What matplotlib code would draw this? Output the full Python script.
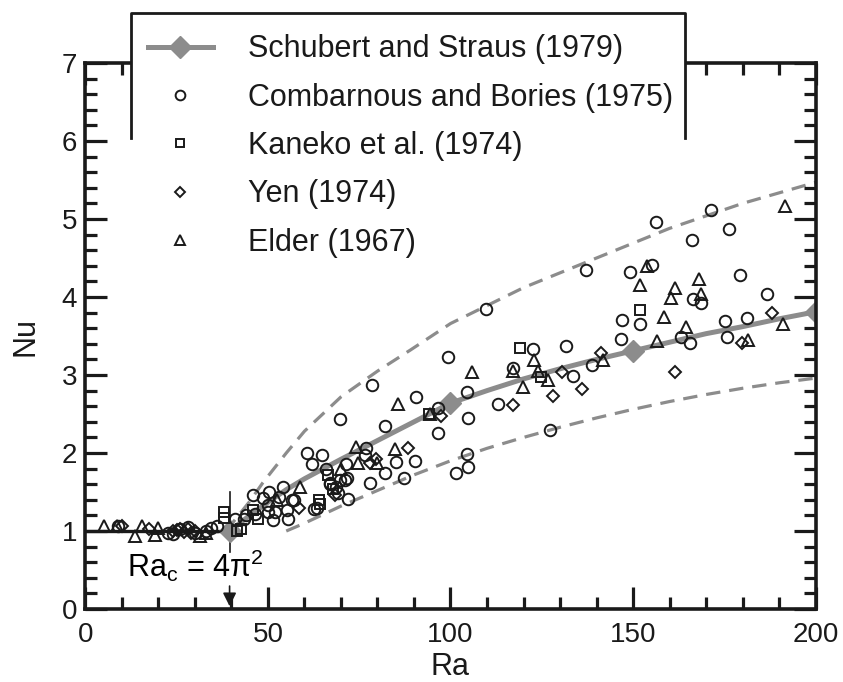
import matplotlib
matplotlib.use("Agg")
from matplotlib import pyplot as plt
from matplotlib.lines import Line2D
from matplotlib.patches import Rectangle
from matplotlib.ticker import MultipleLocator

plt.rcParams['font.family'] = ['Liberation Sans', 'DejaVu Sans']
plt.rcParams['mathtext.fontset'] = 'custom'
plt.rcParams['mathtext.rm'] = 'Liberation Sans'
plt.rcParams['mathtext.it'] = 'Liberation Sans:italic'

# Schubert and Straus (1979) curve, diamonds at 4pi^2, 100, 150, 200
ss_ra = [39.5, 45, 50, 55, 60, 70, 80, 90, 100, 110, 120, 130, 140, 150, 160, 170, 180, 190, 200]
ss_nu = [1.0, 1.2, 1.37, 1.53, 1.67, 1.92, 2.16, 2.40, 2.64, 2.80, 2.95, 3.08, 3.20, 3.31, 3.42, 3.53, 3.62, 3.72, 3.81]
ss_marks = [0, 8, 13, 18]

# dashed envelope
up_ra = [38.5, 45, 48.6, 55, 60, 70, 80, 89, 100, 120, 140, 160, 180, 200]
up_nu = [1.0, 1.38, 1.62, 2.0, 2.28, 2.72, 3.05, 3.32, 3.66, 4.12, 4.5, 4.88, 5.2, 5.47]
lo_ra = [55, 60, 70, 80, 90, 100, 110, 120, 130, 140, 150, 160, 170, 180, 190, 200]
lo_nu = [1.0, 1.1, 1.32, 1.52, 1.72, 1.9, 2.06, 2.2, 2.33, 2.45, 2.56, 2.66, 2.75, 2.83, 2.9, 2.96]

# Combarnous and Bories (1975)
cb_ra = [9, 22.5, 24, 26, 28, 30, 33, 34.5, 36,
         41, 43.3, 44, 46, 46.5, 48.5, 50.4, 52.9, 50.1, 49.9, 52, 54, 55.6, 51.5, 56.7, 55.3, 57,
         60.8, 64.8, 62.1, 65.8, 67, 69.8, 71.1, 68.7, 69.2, 71.9, 67, 62.7, 63.5, 71.4, 71.6,
         69.8, 78.5, 76.8, 76.6, 77.9, 82, 82, 85, 87.2, 90.2, 90.5, 96.7, 96.5, 99.2, 101.6,
         104.6, 104.9, 104.4, 104.9, 109.8, 113, 117.2, 122.6, 127.2, 131.6, 133.5, 137, 138.7,
         146.6, 146.9, 149.3, 151.8, 155.3, 156.4, 163.2, 165.7, 166.5, 168.7, 166.2, 171.4,
         175.2, 175.7, 176.3, 179.3, 181.2, 186.6]
cb_nu = [1.06, 0.97, 0.96, 1.03, 1.05, 0.97, 1.0, 1.04, 1.06,
         1.16, 1.16, 1.2, 1.46, 1.22, 1.42, 1.50, 1.44, 1.33, 1.24, 1.24, 1.56, 1.15, 1.14, 1.40, 1.27, 1.40,
         2.0, 1.98, 1.86, 1.80, 1.62, 1.66, 1.66, 1.56, 1.49, 1.41, 1.60, 1.28, 1.29, 1.86, 1.68,
         2.44, 2.87, 2.07, 1.97, 1.62, 2.35, 1.75, 1.89, 1.68, 1.9, 2.72, 2.58, 2.26, 3.23, 1.74,
         1.99, 1.82, 2.78, 2.45, 3.85, 2.63, 3.09, 3.33, 2.29, 3.37, 2.99, 4.35, 3.13,
         3.46, 3.70, 4.32, 3.65, 4.41, 4.96, 3.49, 3.41, 3.98, 3.92, 4.73, 5.11,
         3.69, 3.49, 4.87, 4.28, 3.73, 4.04]

# Kaneko et al. (1974)
ka_ra = [37.9, 37.9, 41.6, 42.5, 45.8, 47.4, 64, 64.3, 66.5, 67.8, 94, 119, 124.8, 152]
ka_nu = [1.24, 1.17, 1.0, 1.02, 1.27, 1.16, 1.40, 1.35, 1.72, 1.54, 2.50, 3.35, 2.98, 3.83]

# Yen (1974)
ye_ra = [10, 17.5, 24, 25, 26, 27, 28, 29, 30,
         58.6, 68.4, 77.9, 79.6, 88.3, 97.3, 117.2, 128, 130.5, 136, 141.1, 161.6, 179.8, 188]
ye_nu = [1.06, 1.03, 1.0, 1.01, 1.02, 0.99, 1.02, 0.98, 1.0,
         1.29, 1.46, 1.87, 1.92, 2.07, 2.47, 2.62, 2.73, 3.04, 2.82, 3.28, 3.04, 3.41, 3.79]

# Elder (1967)
el_ra = [5, 8.5, 13.5, 15.5, 19, 20, 31.5, 33,
         52.5, 58.9, 70, 74.1, 74.7, 79.8, 84.7, 85.6, 94.3, 106, 117.2, 119.9, 122.9, 124, 126.7,
         141.7, 152, 153.7, 156.7, 158.6, 160.5, 161.6, 164.6, 168, 168.7, 181.5, 191, 191.6]
el_nu = [1.06, 1.06, 0.94, 1.06, 0.95, 1.04, 0.93, 0.98,
         1.40, 1.56, 1.79, 2.08, 1.87, 1.87, 2.05, 2.63, 2.50, 3.04, 3.05, 2.85, 3.19, 3.05, 2.94,
         3.19, 4.15, 4.40, 3.44, 3.75, 3.99, 4.12, 3.61, 4.23, 4.04, 3.45, 3.66, 5.17]

ra_crit = 39.48
gray = '#8c8c8c'
ink = '#1a1a1a'

fig = plt.figure(figsize=(8.43, 6.82), dpi=100)
ax = fig.add_axes([0.1014, 0.107, 0.866, 0.8006])

# conduction line and critical Ra marker
ax.plot([0, ra_crit], [1, 1], color=ink, lw=2.4, zorder=2)
ax.plot([ra_crit, ra_crit], [0.73, 1.5], color=ink, lw=1.2, zorder=2)

ax.plot(up_ra, up_nu, color=gray, lw=2.3, dashes=(4.5, 2.8), zorder=1)
ax.plot(lo_ra, lo_nu, color=gray, lw=2.3, dashes=(4.5, 2.8), zorder=1)
ax.plot(ss_ra, ss_nu, color=gray, lw=3.6, marker='D', markersize=11.5, markevery=ss_marks,
        markeredgecolor=gray, zorder=2)

mk = dict(linestyle='none', markerfacecolor='none', markeredgecolor=ink, markeredgewidth=1.4, zorder=3)
ax.plot(cb_ra, cb_nu, marker='o', markersize=8.3, **mk)
ax.plot(ka_ra, ka_nu, marker='s', markersize=7.3, **mk)
ax.plot(ye_ra, ye_nu, marker='D', markersize=6.0, **mk)
ax.plot(el_ra, el_nu, marker='^', markersize=8.0, **mk)

ax.text(30, 0.41, r'Ra$_\mathrm{c}$ = 4π$^\mathrm{2}$', fontsize=22, ha='center', va='baseline')
ax.annotate('', xy=(ra_crit, 0), xytext=(ra_crit, 0.33),
            arrowprops=dict(arrowstyle='-|>', color=ink, lw=1.2, mutation_scale=20))

ax.set_xlim(0, 200)
ax.set_ylim(0, 7)
ax.xaxis.set_major_locator(MultipleLocator(50))
ax.xaxis.set_minor_locator(MultipleLocator(10))
ax.yaxis.set_major_locator(MultipleLocator(1))
ax.yaxis.set_minor_locator(MultipleLocator(0.2))
ax.tick_params(which='both', direction='in', top=True, right=True, width=2.3, color=ink,
               labelsize=20, labelcolor=ink)
ax.tick_params(which='major', length=16)
ax.tick_params(which='minor', length=8.5)
ax.tick_params(axis='x', pad=9)
ax.tick_params(axis='y', pad=6)
for s in ax.spines.values():
    s.set_linewidth(2.6)
    s.set_color(ink)
ax.set_xlabel('Ra', fontsize=22, color=ink, labelpad=3)
ax.set_ylabel('Nu', fontsize=22, color=ink, labelpad=15)

# legend with a partly framed white box over the top spine
W, H = 843.0, 682.0
box = Rectangle((131 / W, 1 - 138 / H), (685 - 131) / W, 125 / H, transform=fig.transFigure,
                facecolor='white', edgecolor='none', clip_on=False, zorder=4)
ax.add_patch(box)
frame = Line2D([131 / W, 131 / W, 685 / W, 685 / W], [1 - 138 / H, 1 - 13 / H, 1 - 13 / H, 1 - 138 / H],
               transform=fig.transFigure, color=ink, lw=2.0, clip_on=False, zorder=4.5)
ax.add_line(frame)

handles = [
    Line2D([], [], color=gray, lw=3.6, marker='D', markersize=11.5, markeredgecolor=gray),
    Line2D([], [], marker='o', markersize=7, **mk),
    Line2D([], [], marker='s', markersize=6.3, **mk),
    Line2D([], [], marker='D', markersize=5.2, **mk),
    Line2D([], [], marker='^', markersize=7, **mk),
]
labels = ['Schubert and Straus (1979)', 'Combarnous and Bories (1975)', 'Kaneko et al. (1974)',
          'Yen (1974)', 'Elder (1967)']
leg = ax.legend(handles, labels, loc='upper left', bbox_to_anchor=(127 / W, 1 - 13 / H),
                bbox_transform=fig.transFigure, frameon=False, fontsize=22, handlelength=2.1,
                handletextpad=1.15, labelspacing=0.6, borderpad=0.7, borderaxespad=0)
leg.set_zorder(5)
for t in leg.get_texts():
    t.set_color(ink)

fig.savefig('out.png', dpi=100)
